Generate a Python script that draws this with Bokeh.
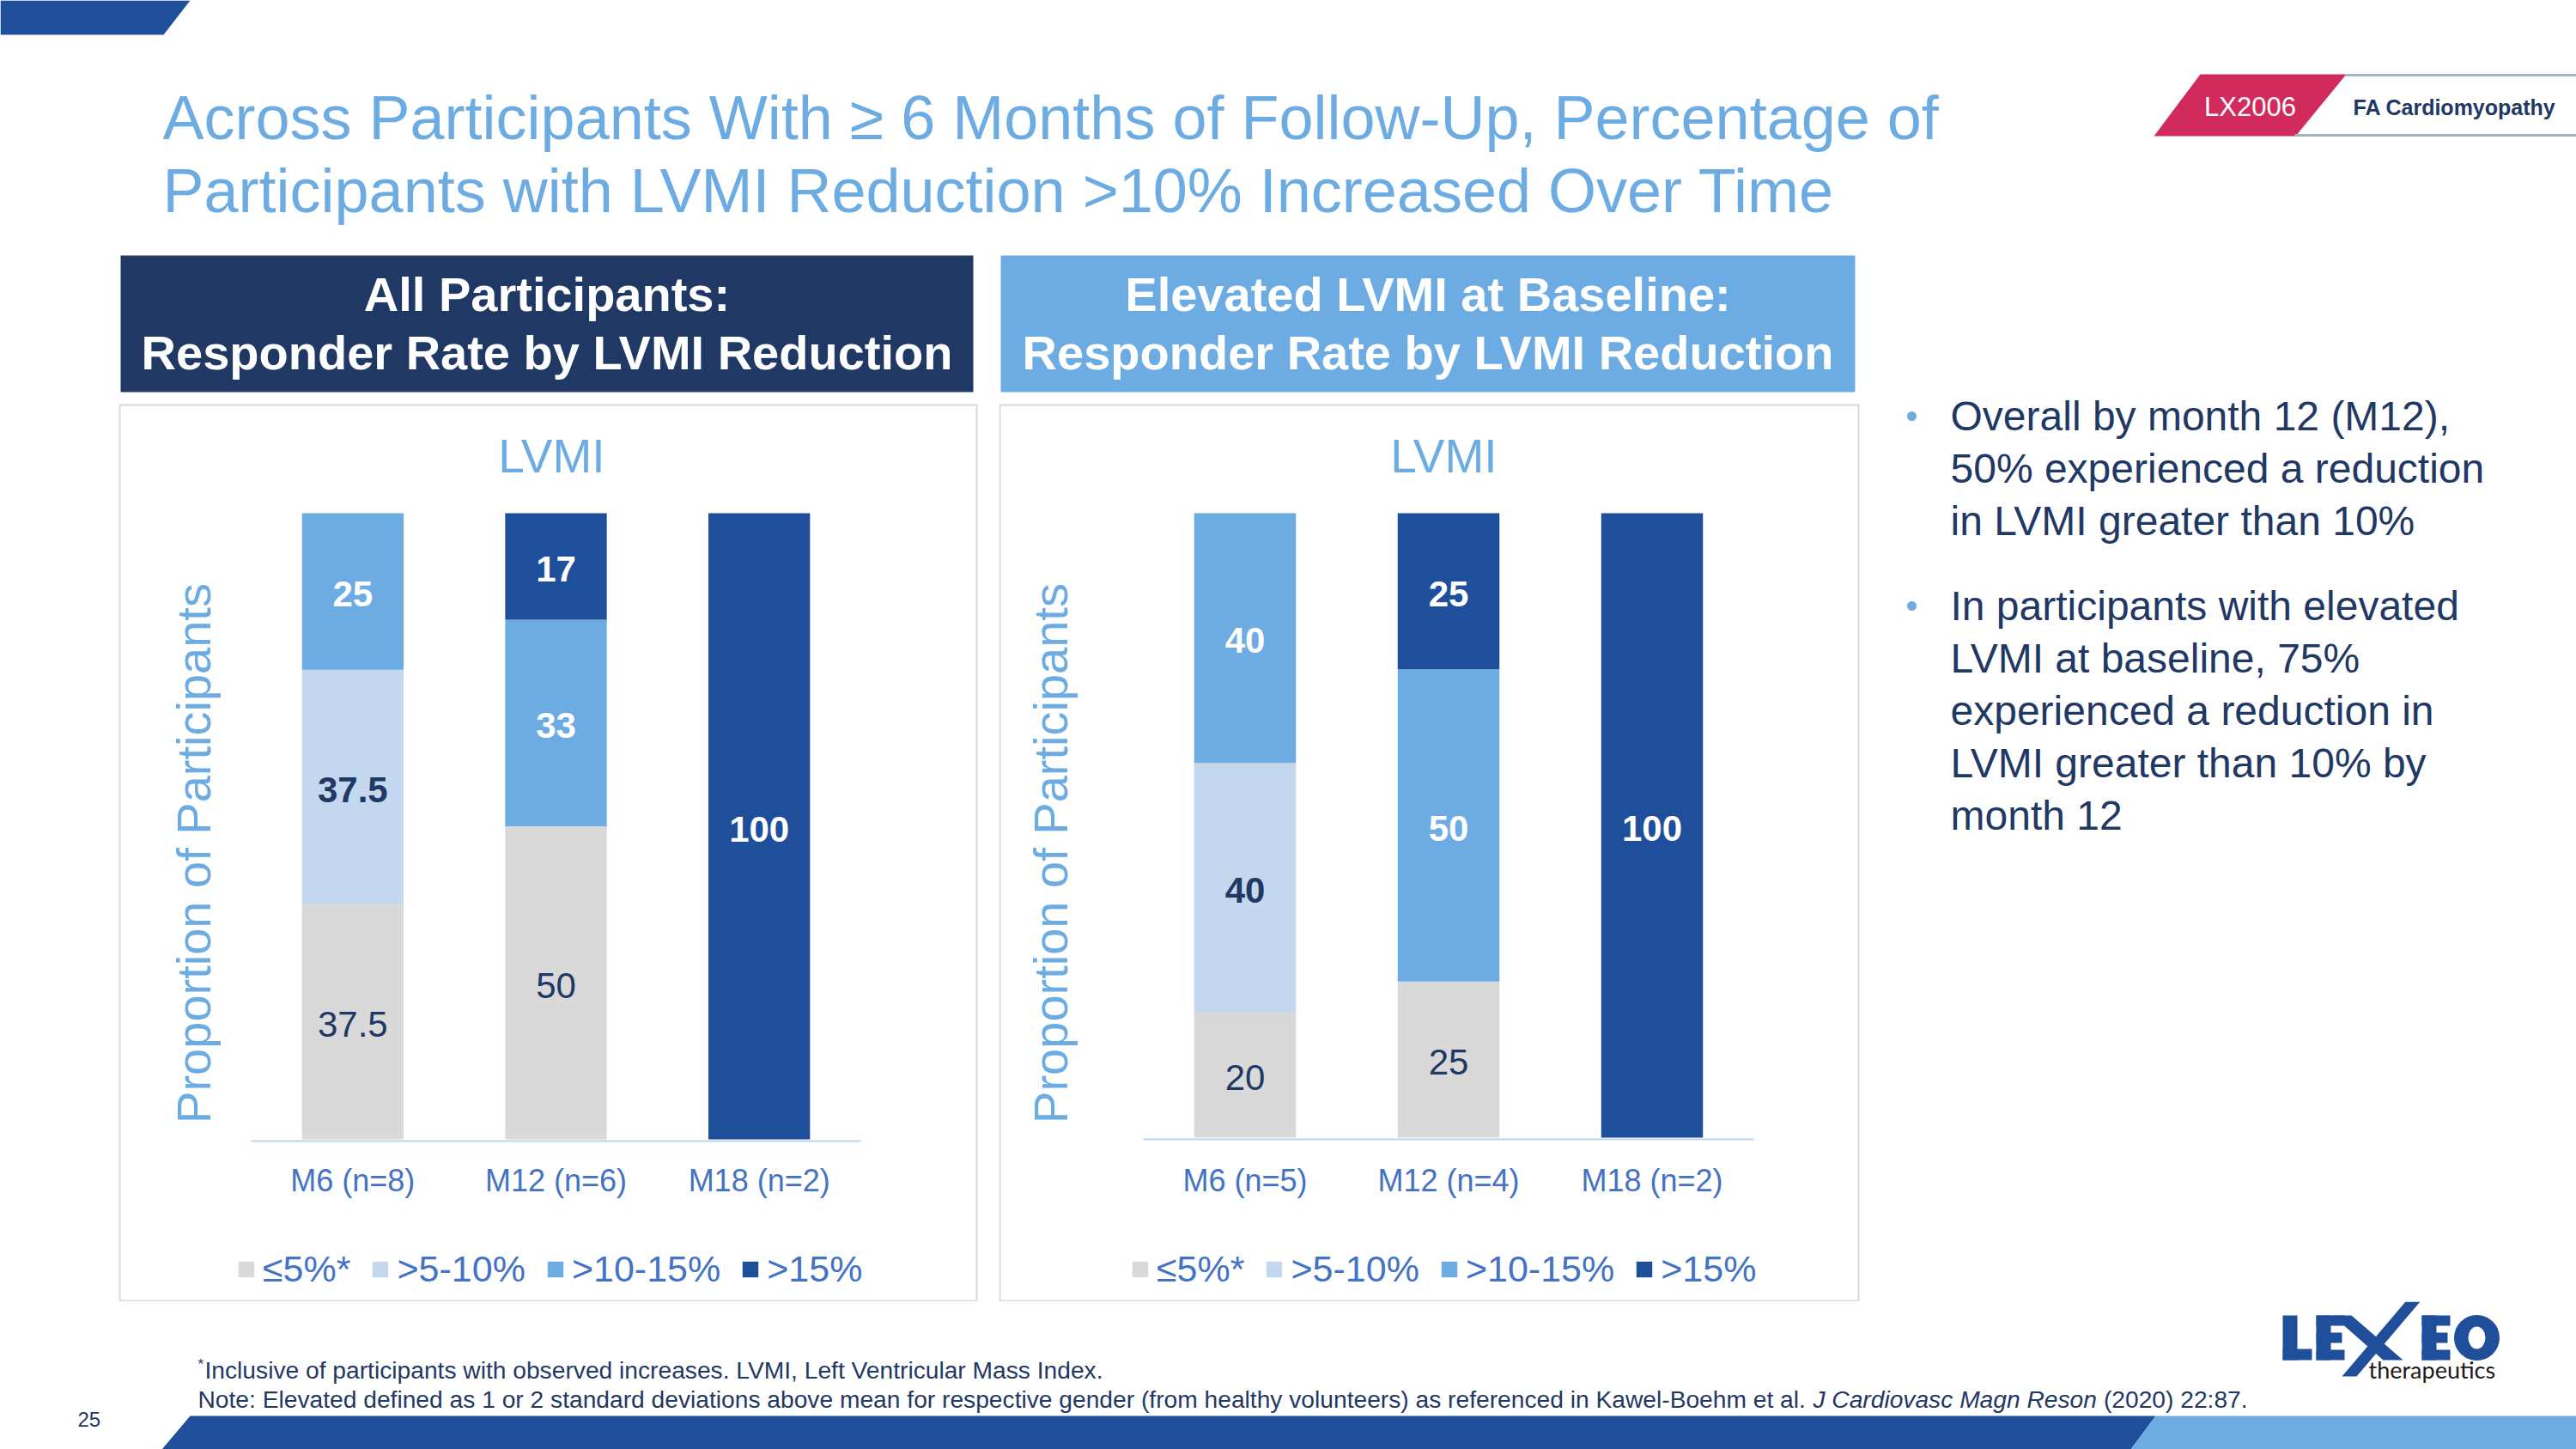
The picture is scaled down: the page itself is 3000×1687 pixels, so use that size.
from bokeh.plotting import figure
from bokeh.layouts import row, column
from bokeh.models import Range1d, FactorRange, ColumnDataSource, Spacer
from bokeh.core.properties import value
from bokeh.embed import file_html
from bokeh.resources import INLINE
import math

# ---------------- data ----------------
series_keys = ["le5", "gt5_10", "gt10_15", "gt15"]
series_labels = ["≤5%*", ">5-10%", ">10-15%", ">15%"]

all_categories = ["M6 (n=8)", "M12 (n=6)", "M18 (n=2)"]
all_le5 = [37.5, 50, 0]
all_gt5_10 = [37.5, 0, 0]
all_gt10_15 = [25, 33, 0]
all_gt15 = [0, 17, 100]

elev_categories = ["M6 (n=5)", "M12 (n=4)", "M18 (n=2)"]
elev_le5 = [20, 25, 0]
elev_gt5_10 = [40, 0, 0]
elev_gt10_15 = [40, 50, 0]
elev_gt15 = [0, 25, 100]

title_lines = [
    "Across Participants With ≥ 6 Months of Follow-Up, Percentage of",
    "Participants with LVMI Reduction >10% Increased Over Time",
]
left_header = ["All Participants:", "Responder Rate by LVMI Reduction"]
right_header = ["Elevated LVMI at Baseline:", "Responder Rate by LVMI Reduction"]
bullet_1 = ["Overall by month 12 (M12),", "50% experienced a reduction", "in LVMI greater than 10%"]
bullet_2 = ["In participants with elevated", "LVMI at baseline, 75%", "experienced a reduction in",
            "LVMI greater than 10% by", "month 12"]
footnote_1 = "Inclusive of participants with observed increases. LVMI, Left Ventricular Mass Index."
footnote_2 = [
    ("Note: Elevated defined as 1 or 2 standard deviations above mean for respective gender "
     "(from healthy volunteers) as referenced in Kawel-Boehm et al. ", "normal"),
    ("J Cardiovasc Magn Reson ", "italic"),
    ("(2020) 22:87.", "normal"),
]

# ---------------- style ----------------
FONT = "Liberation Sans"
NAVY = "#1F3864"
SKY = "#6DACE2"
ROYAL = "#1F4E9B"
LIGHT = "#C3D7EE"
GREY = "#D9D9D9"
AXIS_BLUE = "#4472C4"
PINK = "#D12B5D"
TAG_GREY = "#A7B3BA"
series_colors = [GREY, LIGHT, SKY, ROYAL]

W, H = 3000, 1687
MID_Y0, MID_Y1 = 290, 1515      # band holding the two chart panels and the bullet list
HEAD_Y0, HEAD_Y1 = 297, 456     # panel header boxes
PANEL_Y0 = 470                  # top edge of the chart panels

# Arial / Liberation Sans advance widths (1/1000 em) for laying out mixed-style runs
_AW = {" ": 278, "(": 333, ")": 333, ",": 278, "-": 333, ".": 278, ":": 278,
       "A": 667, "B": 667, "C": 722, "D": 722, "E": 667, "F": 611, "G": 778, "H": 722, "I": 278,
       "J": 500, "K": 667, "L": 556, "M": 833, "N": 722, "O": 778, "P": 667, "R": 722, "S": 667,
       "T": 611, "V": 667, "W": 944, "a": 556, "b": 556, "c": 500, "d": 556, "e": 556, "f": 278,
       "g": 556, "h": 556, "i": 222, "j": 222, "k": 500, "l": 222, "m": 833, "n": 556, "o": 556,
       "p": 556, "q": 556, "r": 333, "s": 500, "t": 278, "u": 556, "v": 500, "w": 722, "x": 500,
       "y": 500, "z": 500}


def text_width(s, size):
    return sum(_AW.get(c, 556) for c in s) * size / 1000.0


def deco(x0, x1, y0, y1):
    """A blank figure whose data units are slide pixels (y grows downward)."""
    f = figure(width=x1 - x0, height=y1 - y0, x_range=Range1d(x0, x1), y_range=Range1d(y1, y0),
               output_backend="svg", toolbar_location=None, min_border=0,
               x_axis_location=None, y_axis_location=None)
    f.grid.visible = False
    f.outline_line_color = None
    f.background_fill_color = "white"
    f.border_fill_color = "white"
    return f


def txt(f, x, y, s, size, color, align="left", style="normal", font=FONT, angle=0):
    f.text(x=[x], y=[y], text=[s], text_font=value(font), text_font_size=f"{size}px",
           text_color=color, text_align=align, text_baseline="middle",
           text_font_style=style, angle=angle)


# ---------------- top band: title and tag ----------------
top = deco(0, W, 0, MID_Y0)
top.patch([0, 221, 190, 0], [0, 0, 40, 40], fill_color=ROYAL, line_color=None)
for i, line in enumerate(title_lines):
    txt(top, 189, 136 + 85 * i, line, 72, SKY)

top.patch([2562, 2732, 2673, 2508], [86, 86, 158, 158], fill_color=PINK, line_color=None)
top.segment(x0=[2731, 2672], y0=[87, 157], x1=[3000, 3000], y1=[87, 157],
            line_color=TAG_GREY, line_width=3)
txt(top, 2620, 124, "LX2006", 31, "white", align="center")
txt(top, 2740, 124, "FA Cardiomyopathy", 25, NAVY, style="bold")


# ---------------- stacked bar panels ----------------
def bar_panel(cats, values, header, header_fill, panel_x, cat_x, base_y, top_y,
              ylabel_x, title_x, legend_x):
    px0, px1 = panel_x
    c0, c1 = cat_x
    unit = (c1 - c0) / len(cats)                 # pixels per category slot
    ppu = (base_y - top_y) / 100.0               # pixels per percentage point
    fx0 = px0
    fx1 = int(round(c0 + c1 - px0))              # keep the categories centred in the frame
    pad = ((fx1 - fx0) / unit - len(cats)) / 2

    def sx(px):
        return (px - c0) / unit

    def sy(py):
        return (base_y - py) / ppu

    p = figure(width=fx1 - fx0, height=MID_Y1 - MID_Y0,
               x_range=FactorRange(factors=cats, range_padding=pad, range_padding_units="absolute"),
               y_range=Range1d(sy(MID_Y1), sy(MID_Y0)),
               output_backend="svg", toolbar_location=None, min_border=0,
               x_axis_location=None, y_axis_location=None)
    p.grid.visible = False
    p.outline_line_color = None
    p.background_fill_color = "white"
    p.border_fill_color = "white"

    # header box
    hx0, hx1 = px0 + 2, px1 - 5
    p.quad(left=[sx(hx0)], right=[sx(hx1)], top=[sy(HEAD_Y0)], bottom=[sy(HEAD_Y1)],
           fill_color=header_fill, line_color=None)
    for i, line in enumerate(header):
        p.text(x=[sx((hx0 + hx1) / 2)], y=[sy(342 + 68 * i)], text=[line], text_align="center",
               text_baseline="middle", text_font=value(FONT), text_font_size="56px",
               text_font_style="bold", text_color="white")

    # panel frame
    p.quad(left=[sx(px0 + 1)], right=[sx(px1 - 1)], top=[sy(PANEL_Y0 + 1)], bottom=[sy(MID_Y1 - 1)],
           fill_color=None, line_color="#D9D9D9", line_width=2)

    # category axis line
    p.segment(x0=[0], x1=[len(cats)], y0=[sy(base_y + 2)], y1=[sy(base_y + 2)],
              line_color="#BDD3EC", line_width=2)

    src = ColumnDataSource(data={"cat": cats, **dict(zip(series_keys, values))})
    p.vbar_stack(series_keys, x="cat", width=0.5, fill_color=series_colors, line_color=None,
                 source=src, legend_label=series_labels)

    base = [0.0] * len(cats)
    for k, vals in enumerate(values):
        xs, ys, ts = [], [], []
        for i, v in enumerate(vals):
            if v > 0:
                xs.append(cats[i])
                ys.append(base[i] + v / 2)
                ts.append(f"{v:g}")
            base[i] += v
        p.text(x=xs, y=ys, text=ts, text_align="center", text_baseline="middle",
               text_font=value(FONT), text_font_size="42px",
               text_font_style="normal" if k == 0 else "bold",
               text_color=NAVY if k < 2 else "white", y_offset=3)

    # category labels
    p.text(x=cats, y=[sy(1374)] * len(cats), text=cats, text_align="center",
           text_baseline="middle", text_font=value(FONT), text_font_size="36px",
           text_color=AXIS_BLUE)

    # chart title and value-axis title
    p.text(x=[sx(title_x)], y=[sy(530)], text=["LVMI"], text_align="center",
           text_baseline="middle", text_font=value(FONT), text_font_size="55px", text_color=SKY)
    p.text(x=[sx(ylabel_x)], y=[sy(993)], text=["Proportion of Participants"],
           text_align="center", text_baseline="middle", text_font=value(FONT),
           text_font_size="56px", text_color=SKY, angle=math.pi / 2)

    lg = p.legend[0]
    lg.orientation = "horizontal"
    lg.location = (legend_x - fx0, MID_Y1 - 1502)
    lg.glyph_width = 23
    lg.glyph_height = 23
    lg.label_standoff = 8
    lg.spacing = 23
    lg.padding = 0
    lg.margin = 0
    lg.border_line_color = None
    lg.background_fill_alpha = 0
    lg.label_text_font = FONT
    lg.label_text_font_size = "43px"
    lg.label_text_color = AXIS_BLUE
    return p


chart_all = bar_panel(all_categories, [all_le5, all_gt5_10, all_gt10_15, all_gt15],
                      left_header, NAVY, (138, 1138), (292, 1002), 1326, 597, 225, 642, 275)
chart_elev = bar_panel(elev_categories, [elev_le5, elev_gt5_10, elev_gt10_15, elev_gt15],
                       right_header, SKY, (1163, 2165), (1331, 2042), 1324, 597, 1223, 1681, 1316)

# ---------------- bullet text ----------------
SIDE_X0 = 1163 + chart_elev.width
side = deco(SIDE_X0, W, MID_Y0, MID_Y1)
side.scatter(x=[2226, 2226], y=[484, 705], size=11, fill_color=SKY, line_color=None)
for i, line in enumerate(bullet_1):
    txt(side, 2271, 484 + 61 * i, line, 48, NAVY)
for i, line in enumerate(bullet_2):
    txt(side, 2271, 705 + 61 * i, line, 48, NAVY)

# ---------------- footer ----------------
foot = deco(0, W, MID_Y1, H)
FN = 28.2
txt(foot, 230, 1588, "*", 17, NAVY)
txt(foot, 238, 1594, footnote_1, FN, NAVY)
x = 230
for run, style in footnote_2:
    txt(foot, x, 1628, run.strip(), FN, NAVY, style=style)
    x += text_width(run, FN)
txt(foot, 90, 1652, "25", 24, NAVY)

foot.patch([221, 2510, 2481, 188], [1648, 1648, 1687, 1687], fill_color=ROYAL, line_color=None)
foot.patch([2510, 3000, 3000, 2481], [1648, 1648, 1687, 1687], fill_color=SKY, line_color=None)

# company mark
foot.quad(left=[2658, 2658, 2697, 2697, 2697, 2697, 2820, 2820, 2820, 2820],
          right=[2675, 2692, 2714, 2730, 2727, 2730, 2837, 2853, 2850, 2853],
          top=[1531, 1570, 1531, 1531, 1551, 1571, 1531, 1531, 1551, 1571],
          bottom=[1583, 1583, 1583, 1543, 1563, 1583, 1583, 1543, 1563, 1583],
          fill_color=ROYAL, line_color=None)
foot.patch([2716, 2738, 2798, 2775], [1531, 1531, 1583, 1583], fill_color=ROYAL, line_color=None)
foot.patch([2801, 2818, 2744, 2727], [1515, 1515, 1602, 1602], fill_color=ROYAL, line_color=None)
foot.ellipse(x=[2884], y=[1557], width=[53], height=[53], fill_color=ROYAL, line_color=None)
foot.ellipse(x=[2884], y=[1557], width=[20], height=[26], fill_color="white", line_color=None)
txt(foot, 2758, 1594, "therapeutics", 27, "#1A1A1A", font="Lato")

slide = column(
    top,
    row(Spacer(width=138, height=MID_Y1 - MID_Y0), chart_all,
        Spacer(width=1163 - (138 + chart_all.width), height=MID_Y1 - MID_Y0),
        chart_elev, side),
    foot,
)

html = file_html(slide, INLINE).replace("<body>", '<body style="margin:0">', 1)
open("out.html", "w").write(html)
